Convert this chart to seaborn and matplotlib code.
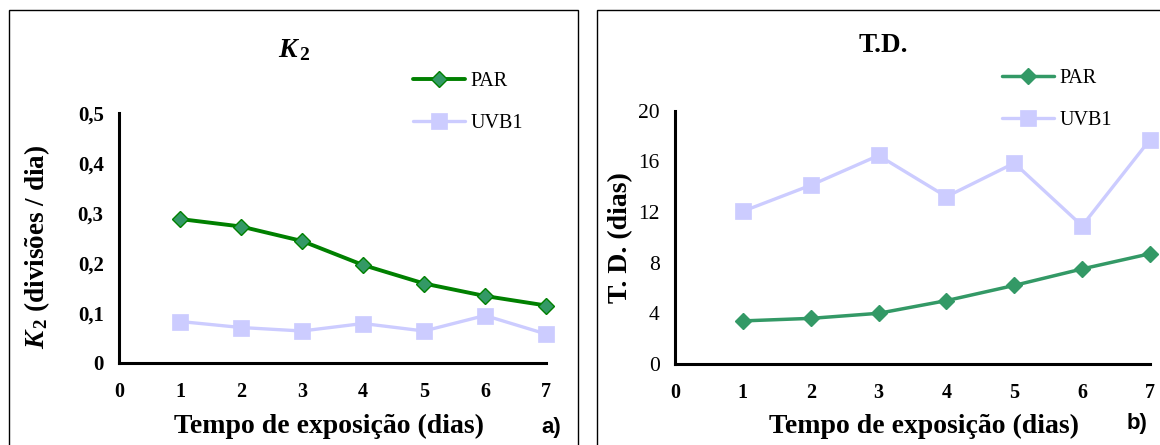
import numpy as np
import pandas as pd
import matplotlib
matplotlib.use("Agg")
import matplotlib.pyplot as plt
from matplotlib.patches import Rectangle
from matplotlib.lines import Line2D
import seaborn as sns

# Exposure time (days)
dias = [1, 2, 3, 4, 5, 6, 7]

# Panel a) growth rate K2 (divisions / day)
k2_par = [0.288, 0.273, 0.244, 0.196, 0.159, 0.134, 0.115]
k2_uvb1 = [0.083, 0.071, 0.064, 0.079, 0.064, 0.095, 0.058]

# Panel b) doubling time T.D. (days)
td_par = [3.4, 3.6, 4.0, 5.0, 6.2, 7.5, 8.7]
td_uvb1 = [12.05, 14.1, 16.45, 13.2, 15.85, 10.9, 17.7]

series = ["PAR", "UVB1"]
x_ticks = [0, 1, 2, 3, 4, 5, 6, 7]
k2_ticks = [0, 0.1, 0.2, 0.3, 0.4, 0.5]
k2_ticklabels = ["0", "0,1", "0,2", "0,3", "0,4", "0,5"]
td_ticks = [0, 4, 8, 12, 16, 20]
td_ticklabels = ["0", "4", "8", "12", "16", "20"]

sns.set_style("white")
plt.rcParams["font.family"] = ["Liberation Serif", "DejaVu Serif"]
plt.rcParams["mathtext.fontset"] = "custom"
plt.rcParams["mathtext.rm"] = "Liberation Serif:bold"
plt.rcParams["mathtext.it"] = "Liberation Serif:bold:italic"
plt.rcParams["mathtext.bf"] = "Liberation Serif:bold"
for key in ("text.color", "axes.labelcolor", "xtick.color", "ytick.color", "axes.edgecolor"):
    plt.rcParams[key] = "black"

W, H = 1160, 445
fig = plt.figure(figsize=(W / 100, H / 100), dpi=100)
fig.patch.set_facecolor("white")


def fx(px):
    return px / W


def fy(py):
    return 1 - py / H


# Panel frames
fig.add_artist(Rectangle((fx(9), fy(460)), fx(578 - 9), (460 - 10) / H,
                         transform=fig.transFigure, fill=False, ec="black", lw=1.0))
fig.add_artist(Rectangle((fx(597), fy(460)), fx(1175 - 597), (460 - 10) / H,
                         transform=fig.transFigure, fill=False, ec="black", lw=1.0))

ax1 = fig.add_axes([fx(119), fy(363), fx(546 - 119), (363 - 113) / H])
ax2 = fig.add_axes([fx(675), fy(364), fx(1150 - 675), (364 - 110.5) / H])

UV_COLOR = "#CCCCFF"

df_a = pd.DataFrame({"dia": dias * 2, "valor": k2_par + k2_uvb1,
                     "serie": ["PAR"] * 7 + ["UVB1"] * 7})
df_b = pd.DataFrame({"dia": dias * 2, "valor": td_par + td_uvb1,
                     "serie": ["PAR"] * 7 + ["UVB1"] * 7})

styles_a = {
    "PAR": dict(color="#008000", marker="D", markersize=8, markerfacecolor="#339966",
                markeredgecolor="#008000", markeredgewidth=1.0, linewidth=2.8),
    "UVB1": dict(color=UV_COLOR, marker="s", markersize=11.5, markerfacecolor=UV_COLOR,
                 markeredgecolor=UV_COLOR, markeredgewidth=0.5, linewidth=2.4),
}
styles_b = {
    "PAR": dict(color="#339966", marker="D", markersize=8.5, markerfacecolor="#339966",
                markeredgecolor="#339966", markeredgewidth=1.0, linewidth=2.5),
    "UVB1": dict(color=UV_COLOR, marker="s", markersize=11.5, markerfacecolor=UV_COLOR,
                 markeredgecolor=UV_COLOR, markeredgewidth=0.5, linewidth=2.4),
}

for ax, df, styles in ((ax1, df_a, styles_a), (ax2, df_b, styles_b)):
    for s in series:
        sub = df[df["serie"] == s]
        sns.lineplot(data=sub, x="dia", y="valor", ax=ax, label=s,
                     clip_on=False, zorder=3 if s == "PAR" else 2, **styles[s])

for ax in (ax1, ax2):
    ax.set_xlim(0, 7)
    ax.set_xticks(x_ticks)
    ax.set_xticklabels([str(t) for t in x_ticks], fontweight="bold", fontsize=14.5)
    for side in ("top", "right"):
        ax.spines[side].set_visible(False)
    for side in ("left", "bottom"):
        ax.spines[side].set_linewidth(2.2)
        ax.spines[side].set_color("black")
    ax.tick_params(axis="both", direction="out", length=6, width=1.8, colors="black")
    ax.tick_params(axis="x", pad=8)
    ax.tick_params(axis="y", pad=5)
    ax.set_xlabel("")
    ax.set_ylabel("")
    ax.set_facecolor("white")
    ax.get_legend().remove()

ax1.set_ylim(0, 0.5)
ax1.set_yticks(k2_ticks)
ax1.set_yticklabels(k2_ticklabels, fontweight="bold", fontsize=15)
ax2.set_ylim(0, 20)
ax2.set_yticks(td_ticks)
ax2.set_yticklabels(td_ticklabels, fontsize=15.5)

# Titles
fig.text(fx(294), fy(50), r"$\mathit{K}_{\,2}$", fontsize=20, ha="center", va="center")
fig.text(fx(883), fy(46), "T.D.", fontsize=19.5, fontweight="bold", ha="center", va="center")

# Axis labels
fig.text(fx(37), fy(247), r"$\mathit{K}_{\,2}$ (divisões / dia)", fontsize=19.5,
         fontweight="bold", rotation=90, ha="center", va="center")
fig.text(fx(621), fy(238), "T. D. (dias)", fontsize=20, fontweight="bold",
         rotation=90, ha="center", va="center")
fig.text(fx(329), fy(426), "Tempo de exposição (dias)", fontsize=20, fontweight="bold",
         ha="center", va="center")
fig.text(fx(924), fy(426), "Tempo de exposição (dias)", fontsize=20, fontweight="bold",
         ha="center", va="center")
fig.text(fx(551), fy(428), "a)", fontsize=16, fontweight="bold", family="Liberation Sans",
         ha="center", va="center")
fig.text(fx(1137), fy(423), "b)", fontsize=16, fontweight="bold", family="Liberation Sans",
         ha="center", va="center")

# Legends
def legend_handles(styles):
    return [Line2D([], [], **styles[s]) for s in series]


for ax, styles, lx, ly in ((ax1, styles_a, 413, 72), (ax2, styles_b, 1002, 69)):
    fig.legend(handles=legend_handles(styles), labels=series,
               loc="upper left", bbox_to_anchor=(fx(lx - 4), fy(ly - 4)),
               frameon=False, fontsize=14.5, handlelength=2.6,
               handletextpad=0.25, labelspacing=1.15, borderpad=0.2,
               borderaxespad=0.0)

fig.savefig("out.png", dpi=100, facecolor="white")
